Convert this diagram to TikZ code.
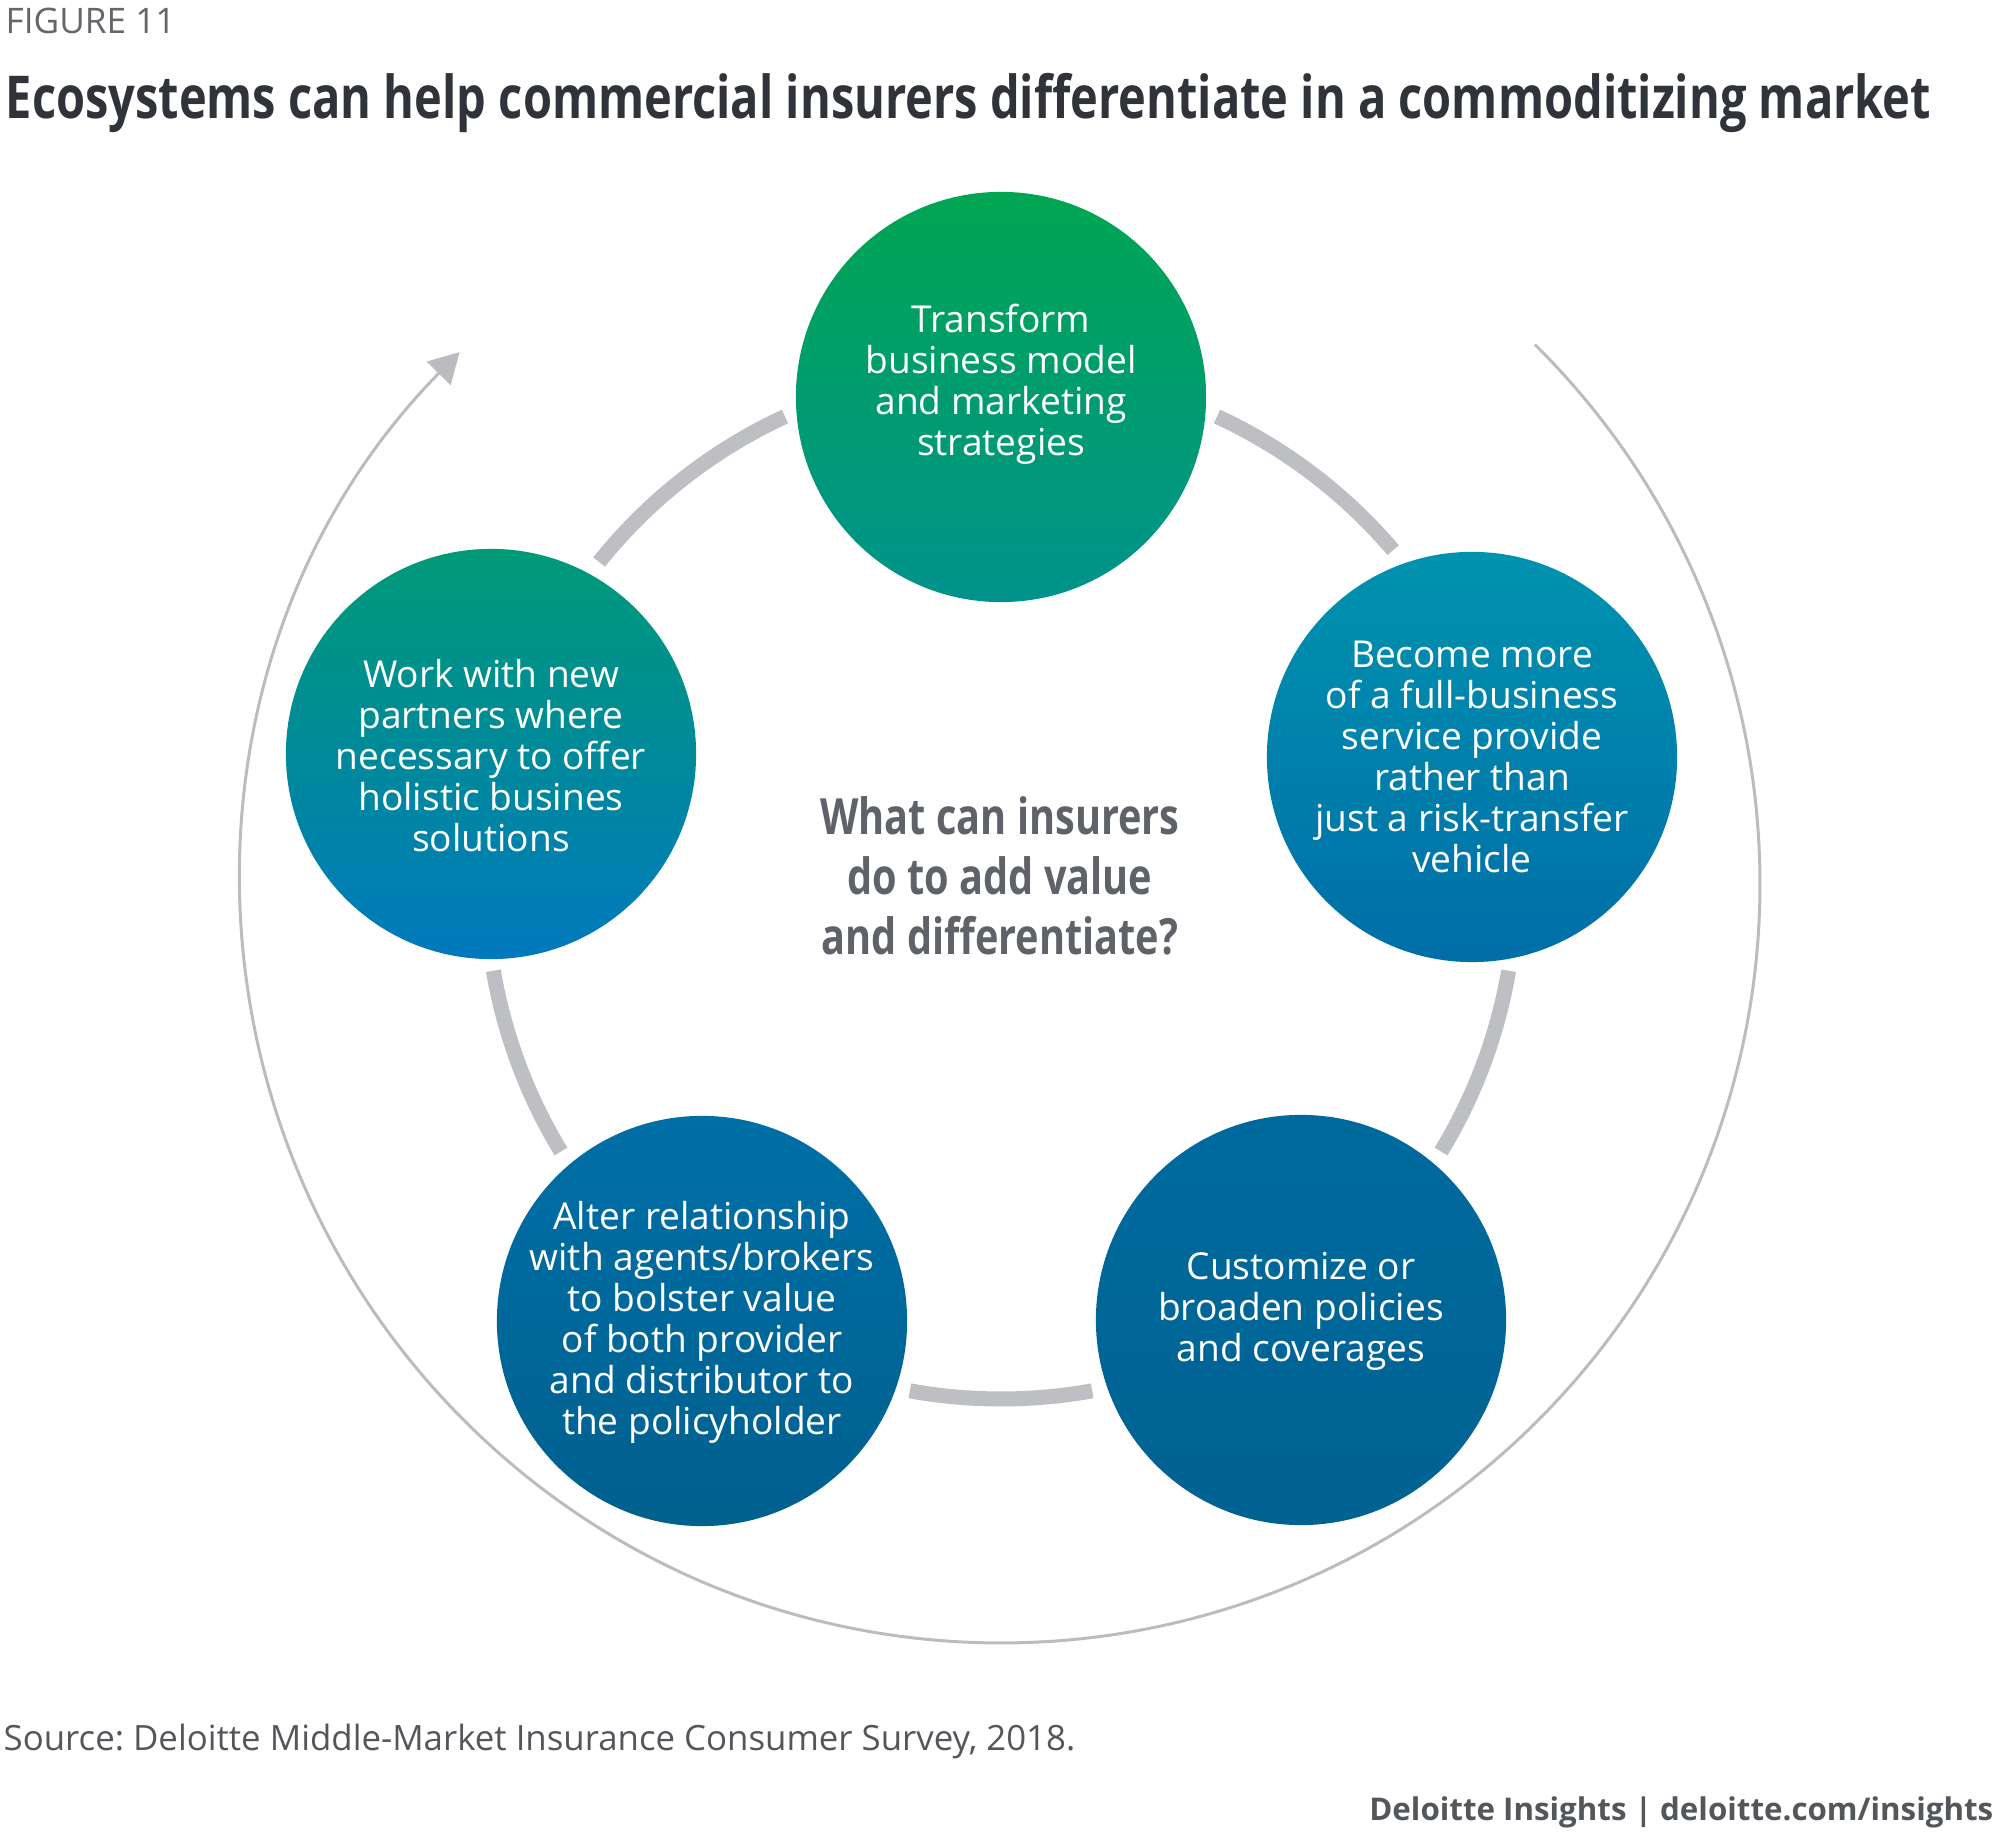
\documentclass[tikz,border=0pt]{standalone}
\usepackage{fontspec}
\setmainfont{Open Sans}
\newfontfamily\condfont[FakeStretch=0.795]{Open Sans}
\usetikzlibrary{arrows.meta}
\frenchspacing
\definecolor{figgray}{HTML}{63666A}
\definecolor{titledark}{HTML}{30333A}
\definecolor{qgray}{HTML}{5F6369}
\definecolor{notegray}{HTML}{53565A}
\definecolor{ringgray}{HTML}{BEBFC2}
\definecolor{arcgray}{HTML}{BBBCBF}
\begin{document}
\begin{tikzpicture}[x=0.01cm,y=0.01cm,
  bubble/.style={circle, minimum size=4.1cm, inner sep=0pt},
  bubbletext/.style={text=white, align=center, inner sep=0pt, font=\fontsize{10.55}{11.67}\selectfont},
  ringseg/.style={draw=ringgray, line width=4.27pt},
  returnarc/.style={draw=arcgray, line width=0.85pt, -{Triangle[length=0.3cm,width=0.33cm]}}]
\useasboundingbox (0,0) rectangle (2000,1845);
\coordinate (hub) at (1001,961);
% headings
\node [anchor=base west, inner sep=0pt, text=figgray, font=\fontsize{10}{12}\selectfont] (figlabel) at (5,1811) {FIGURE 11};
\node [anchor=base west, inner sep=0pt, text=titledark, font=\condfont\bfseries\fontsize{16.8}{20}\selectfont] (title) at (5,1726) {Ecosystems can help commercial insurers differentiate in a commoditizing market};
% outer return arc
\draw [returnarc] (hub) ++(45.3:759) arc[start angle=45.3, end angle=-224.5, radius=759];
% ring pieces between the circles
\draw [ringseg] (hub) ++(40.4:515) arc[start angle=40.4, end angle=65.2, radius=515];
\draw [ringseg] (hub) ++(114.8:515) arc[start angle=114.8, end angle=141.3, radius=515];
\draw [ringseg] (hub) ++(-31.3:515) arc[start angle=-31.3, end angle=-9.7, radius=515];
\draw [ringseg] (hub) ++(-100.2:515) arc[start angle=-100.2, end angle=-79.8, radius=515];
\draw [ringseg] (hub) ++(189.7:515) arc[start angle=189.7, end angle=211.3, radius=515];
% circles
\node [bubble, top color={rgb,255:red,0;green,166;blue,82}, bottom color={rgb,255:red,0;green,146;blue,140}] (transform) at (1001,1448) {};
\node [bubble, top color={rgb,255:red,0;green,147;blue,175}, middle color={rgb,255:red,0;green,129;blue,189}, bottom color={rgb,255:red,0;green,110;blue,168}] (fullservice) at (1472,1088) {};
\node [bubble, top color={rgb,255:red,0;green,106;blue,158}, bottom color={rgb,255:red,0;green,98;blue,145}] (customize) at (1301,525) {};
\node [bubble, top color={rgb,255:red,0;green,111;blue,166}, bottom color={rgb,255:red,0;green,96;blue,142}] (alter) at (702,524) {};
\node [bubble, top color={rgb,255:red,0;green,154;blue,120}, bottom color={rgb,255:red,0;green,121;blue,189}] (partners) at (491,1091) {};
% circle texts
\node [bubbletext] (transform text) at (1001,1461) {Transform\\business model\\and marketing\\strategies};
\node [bubbletext] (fullservice text) at (1472,1088) {Become more\\of a full-business\\service provide\\rather than\\just a risk-transfer\\vehicle};
\node [bubbletext] (customize text) at (1301,534) {Customize or\\broaden policies\\and coverages};
\node [bubbletext] (alter text) at (702,523) {Alter relationship\\with agents/brokers\\to bolster value\\of both provider\\and distributor to\\the policyholder};
\node [bubbletext] (partners text) at (491,1089) {Work with new\\partners where\\necessary to offer\\holistic busines\\solutions};
% question in the middle
\node [align=center, inner sep=0pt, text=qgray, font=\condfont\bfseries\fontsize{14.2}{17.07}\selectfont] (question) at (1000,969) {What can insurers\\do to add value\\and differentiate?};
% footer
\node [anchor=base west, inner sep=0pt, text=notegray, font=\fontsize{9.9}{12}\selectfont] (source) at (3,95) {Source: Deloitte Middle-Market Insurance Consumer Survey, 2018.};
\node [anchor=base east, inner sep=0pt, text=notegray, font=\bfseries\fontsize{8.9}{11}\selectfont] (credit) at (1994,25) {Deloitte Insights | deloitte.com/insights};
\end{tikzpicture}
\end{document}
